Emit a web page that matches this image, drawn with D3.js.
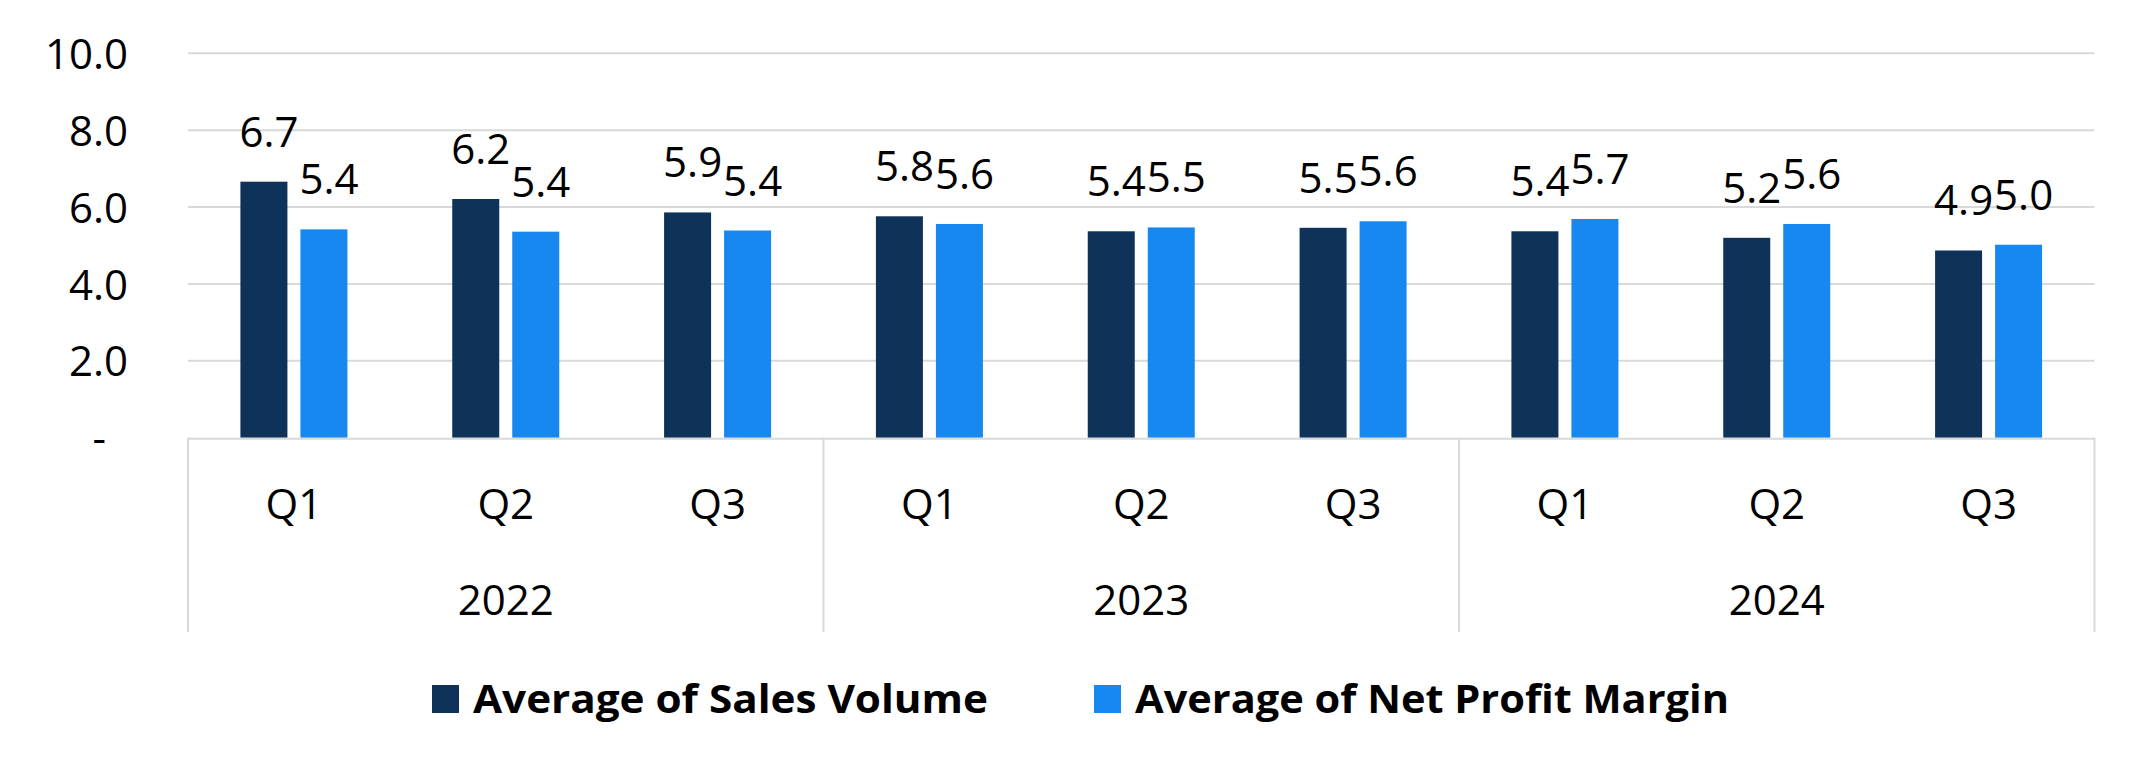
<!DOCTYPE html>
<html>
<head>
<meta charset="utf-8">
<script src="https://cdn.jsdelivr.net/npm/d3@7/dist/d3.min.js"></script>
<style>
  html, body { margin: 0; padding: 0; background: #ffffff; }
  svg { display: block; }
  text { font-family: "Open Sans", "Noto Sans", sans-serif; fill: #000; }
</style>
</head>
<body>
<svg id="chart" width="2145" height="771"></svg>
<script>
// ---- data ----
const years = ["2022", "2023", "2024"];
const quarters = ["Q1", "Q2", "Q3", "Q1", "Q2", "Q3", "Q1", "Q2", "Q3"];
const categoryYear = ["2022", "2022", "2022", "2023", "2023", "2023", "2024", "2024", "2024"];
const seriesNames = ["Average of Sales Volume", "Average of Net Profit Margin"];
const salesVolume = [6.66, 6.21, 5.86, 5.76, 5.37, 5.46, 5.37, 5.20, 4.87];
const netProfitMargin = [5.42, 5.36, 5.39, 5.56, 5.47, 5.63, 5.69, 5.56, 5.02];
const yTicks = [0, 2, 4, 6, 8, 10];
const yTickLabels = ["-", "2.0", "4.0", "6.0", "8.0", "10.0"];

const colors = ["#0f3358", "#1788f0"];
const gridColor = "#d9d9d9";

const svg = d3.select("#chart");
const plotLeft = 188, plotRight = 2094.5, plotTop = 53.3, plotBottom = 437.7;

const x = d3.scaleBand().domain(d3.range(quarters.length)).range([plotLeft, plotRight]).paddingInner(0).paddingOuter(0);
const bw = x.bandwidth();
const groupW = 107;
const x1 = d3.scaleBand().domain([0, 1]).range([(bw - groupW) / 2, (bw + groupW) / 2]).paddingInner(13 / 60).paddingOuter(0);
const y = d3.scaleLinear().domain([0, 10]).range([plotBottom, plotTop]);

// y axis labels
const yAxis = d3.axisLeft(y).tickValues(yTicks).tickSize(0).tickFormat((d, i) => yTickLabels[i]);
const gy = svg.append("g").attr("transform", `translate(${plotLeft},0)`).call(yAxis);
gy.select(".domain").remove();
gy.selectAll("text")
  .attr("x", (d) => d === 0 ? -82 : -60)
  .attr("dy", "0.36em")
  .style("font-size", "42px")
  .style("font-family", '"Open Sans", sans-serif')
  .attr("fill", "#000");

// gridlines
svg.append("g").selectAll("line")
  .data(yTicks.filter(d => d !== 0))
  .join("line")
  .attr("x1", plotLeft).attr("x2", plotRight)
  .attr("y1", d => y(d)).attr("y2", d => y(d))
  .attr("stroke", gridColor).attr("stroke-width", 2);

// bars
const series = [salesVolume, netProfitMargin];
const fmt = d3.format(".1f");
series.forEach((vals, s) => {
  const g = svg.append("g");
  g.selectAll("rect").data(vals).join("rect")
    .attr("x", (d, i) => x(i) + x1(s))
    .attr("width", x1.bandwidth())
    .attr("y", d => y(d))
    .attr("height", d => y(0) - y(d))
    .attr("fill", colors[s]);
  g.selectAll("text").data(vals).join("text")
    .attr("x", (d, i) => x(i) + x1(s) - 1)
    .attr("y", d => y(d) - 35)
    .style("font-size", "42px")
    .text(d => fmt(d));
});

// x axis line
svg.append("line")
  .attr("x1", plotLeft).attr("x2", plotRight)
  .attr("y1", plotBottom + 1).attr("y2", plotBottom + 1)
  .attr("stroke", gridColor).attr("stroke-width", 2);

// separators
const sepIdx = [0, 3, 6, 9];
svg.append("g").selectAll("line").data(sepIdx).join("line")
  .attr("x1", d => d < 9 ? x(d) : plotRight).attr("x2", d => d < 9 ? x(d) : plotRight)
  .attr("y1", plotBottom).attr("y2", 632)
  .attr("stroke", gridColor).attr("stroke-width", 2);

// quarter labels
svg.append("g").selectAll("text").data(quarters).join("text")
  .attr("x", (d, i) => x(i) + bw / 2)
  .attr("y", 519)
  .attr("text-anchor", "middle")
  .style("font-size", "42px")
  .text(d => d);

// year labels
svg.append("g").selectAll("text").data(years).join("text")
  .attr("x", d => {
    const idx = categoryYear.map((c, i) => c === d ? i : -1).filter(i => i >= 0);
    return (x(idx[0]) + x(idx[idx.length - 1]) + bw) / 2;
  })
  .attr("y", 615)
  .attr("text-anchor", "middle")
  .style("font-size", "42px")
  .text(d => d);

// legend
const legendX = [432, 1094];
const legendW = [515, 594];
const lg = svg.append("g");
seriesNames.forEach((name, s) => {
  lg.append("rect").attr("x", legendX[s]).attr("y", 685).attr("width", 27).attr("height", 28).attr("fill", colors[s]);
  lg.append("text").attr("x", legendX[s] + 41).attr("y", 713)
    .style("font-size", "40px").style("font-weight", "bold")
    .attr("textLength", legendW[s]).attr("lengthAdjust", "spacingAndGlyphs")
    .text(name);
});
</script>
</body>
</html>
